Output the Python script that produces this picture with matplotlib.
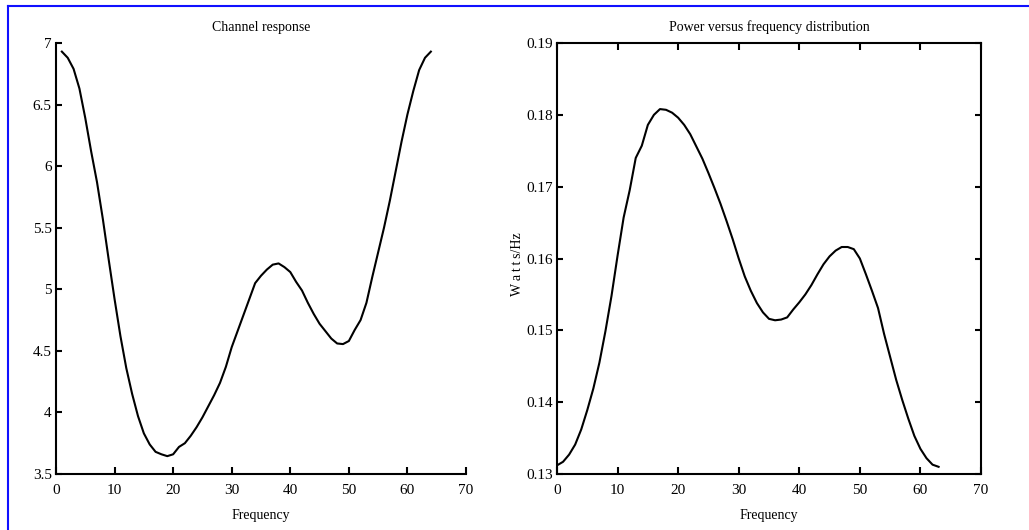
"""Channel response and power versus frequency, two panels"""

import matplotlib
matplotlib.use("Agg")
import matplotlib.pyplot as plt
import matplotlib.ticker as mt
from matplotlib.lines import Line2D
import numpy as np

# left panel: channel response, frequency bins 1..64
chan_freq = np.arange(1, 65)
chan_resp = [6.93, 6.88, 6.79, 6.63, 6.39, 6.12, 5.87, 5.57, 5.24, 4.92,
             4.62, 4.36, 4.15, 3.97, 3.83, 3.74, 3.68, 3.66, 3.645, 3.66,
             3.72, 3.75, 3.81, 3.88, 3.96, 4.05, 4.14, 4.24, 4.37, 4.53,
             4.66, 4.79, 4.92, 5.05, 5.11, 5.16, 5.20, 5.21, 5.18, 5.14,
             5.06, 4.99, 4.89, 4.80, 4.72, 4.66, 4.60, 4.56, 4.555, 4.58,
             4.67, 4.75, 4.89, 5.10, 5.30, 5.50, 5.72, 5.96, 6.20, 6.42,
             6.61, 6.78, 6.88, 6.93]

# right panel: power per Hz, frequency bins 0..63
psd_freq = np.arange(0, 64)
psd_watts = [0.1312, 0.1317, 0.1327, 0.1341, 0.1362, 0.1389, 0.1419, 0.1455,
             0.1499, 0.1548, 0.1604, 0.1657, 0.1695, 0.1740, 0.1757, 0.1786,
             0.1800, 0.1808, 0.1807, 0.1803, 0.1796, 0.1786, 0.1773, 0.1756,
             0.1739, 0.1719, 0.1698, 0.1676, 0.1652, 0.1627, 0.1600, 0.1575,
             0.1555, 0.1538, 0.1525, 0.1516, 0.1514, 0.1515, 0.1518, 0.1529,
             0.1539, 0.1550, 0.1563, 0.1578, 0.1592, 0.1603, 0.1611, 0.1616,
             0.1616, 0.1613, 0.1600, 0.1578, 0.1555, 0.1531, 0.1495, 0.1463,
             0.1431, 0.1403, 0.1377, 0.1353, 0.1335, 0.1322, 0.1313, 0.1310]

x_ticks = [0, 10, 20, 30, 40, 50, 60, 70]
chan_ticks = [3.5, 4, 4.5, 5, 5.5, 6, 6.5, 7]
psd_ticks = [0.13, 0.14, 0.15, 0.16, 0.17, 0.18, 0.19]


def graph():
    plt.rcParams['font.family'] = ['Liberation Serif', 'DejaVu Serif']
    fig = plt.figure(figsize=(10.29, 5.30), dpi=100)
    W, H = 1029.0, 530.0

    fmt = mt.FuncFormatter(lambda v, p: '%g' % v)

    # left panel
    ax1 = fig.add_axes([56 / W, 1 - 474 / H, 410 / W, 431 / H])
    ax1.plot(chan_freq, chan_resp, color='black', lw=1.5)
    ax1.set_xlim(0, 70)
    ax1.set_ylim(3.5, 7)
    ax1.set_xticks(x_ticks)
    ax1.set_yticks(chan_ticks)
    ax1.yaxis.set_major_formatter(fmt)
    ax1.spines['top'].set_visible(False)
    ax1.spines['right'].set_visible(False)
    ax1.set_title('Channel response', fontsize=10, pad=9)
    ax1.set_xlabel('Frequency', fontsize=10, labelpad=8)
    ax1.tick_params(axis='x', direction='in', length=5, width=1.5,
                    labelsize=11, pad=7.5)
    ax1.tick_params(axis='y', direction='in', length=4, width=1.5,
                    labelsize=11, pad=3)

    # right panel
    ax2 = fig.add_axes([557 / W, 1 - 474 / H, 424 / W, 431 / H])
    ax2.plot(psd_freq, psd_watts, color='black', lw=1.5)
    ax2.set_xlim(0, 70)
    ax2.set_ylim(0.13, 0.19)
    ax2.set_xticks(x_ticks)
    ax2.set_yticks(psd_ticks)
    ax2.yaxis.set_major_formatter(fmt)
    ax2.set_title('Power versus frequency distribution', fontsize=10, pad=9)
    ax2.set_xlabel('Frequency', fontsize=10, labelpad=8)
    ax2.set_ylabel('W\u2009a\u2009t\u2009t\u2009s/Hz', fontsize=10)
    ax2.yaxis.set_label_coords(-0.079, 0.486)
    ax2.tick_params(axis='x', direction='in', length=5, width=1.5,
                    labelsize=11, pad=7.5, top=True)
    ax2.tick_params(axis='y', direction='in', length=4, width=1.5,
                    labelsize=11, pad=3, right=True)

    for ax in (ax1, ax2):
        for s in ax.spines.values():
            s.set_linewidth(1.5)

    # blue frame on top and left edge
    fig.add_artist(Line2D([7.5 / W, 1.0], [1 - 6 / H, 1 - 6 / H],
                          transform=fig.transFigure, color='#1010ff', lw=1.5))
    fig.add_artist(Line2D([7.5 / W, 7.5 / W], [0.0, 1 - 6 / H],
                          transform=fig.transFigure, color='#1010ff', lw=1.5))

    fig.savefig('out.png', dpi=100)


def main():
    graph()


if __name__ == "__main__":
    main()
